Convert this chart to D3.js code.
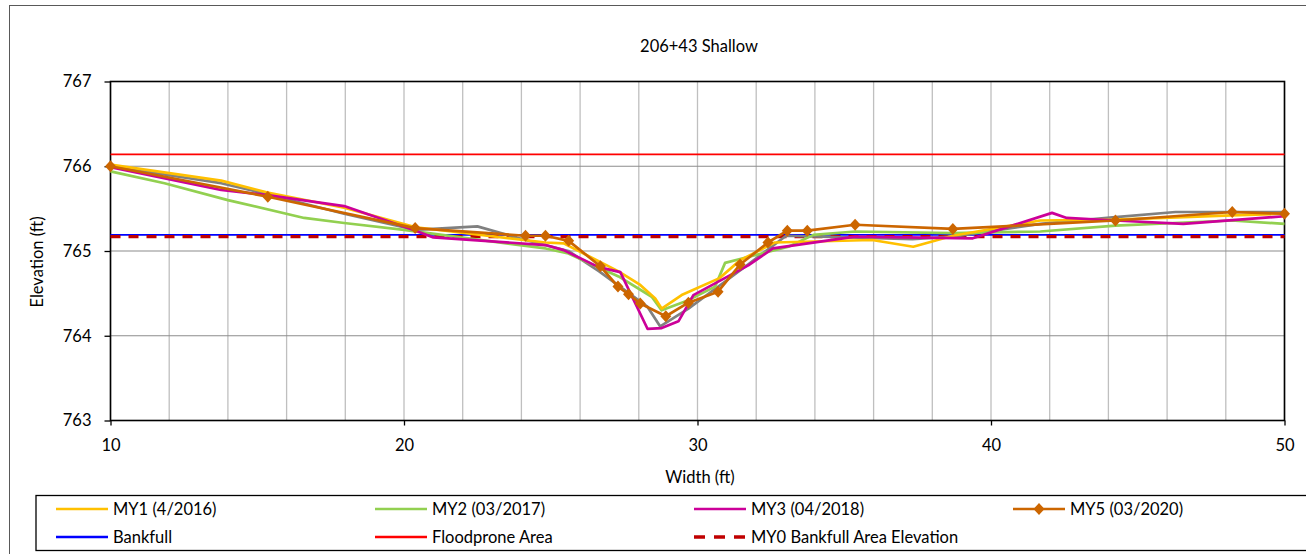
<!DOCTYPE html>
<html>
<head>
<meta charset="utf-8">
<script src="https://cdn.jsdelivr.net/npm/d3@7"></script>
<style>
  body { margin: 0; background: #fff; }
  svg { font-family: Lato, "Liberation Sans", sans-serif; }
</style>
</head>
<body>
<svg id="chart" width="1306" height="554"></svg>
<script>
// survey points [width, elevation]
const my0 = [[10,766.0],[13.77,765.8],[15.35,765.67],[17.96,765.44],[20.4,765.25],[22.5,765.29],[24.14,765.13],[25.6,765.0],[26.65,764.76],[28.3,764.34],[28.73,764.11],[29.69,764.32],[31.45,764.77],[33.02,765.18],[37.32,765.14],[38.7,765.17],[41.68,765.32],[44.24,765.4],[46.29,765.46],[50,765.46]];
const my1 = [[10,766.02],[13.77,765.83],[15.35,765.69],[17.96,765.51],[20.4,765.28],[24.82,765.1],[25.44,765.09],[27.31,764.76],[28.05,764.6],[28.56,764.44],[28.78,764.32],[29.46,764.48],[30.75,764.68],[31.45,764.89],[32.63,765.1],[35.95,765.13],[37.35,765.05],[38.7,765.18],[41.68,765.36],[44.24,765.37],[48.2,765.42],[50,765.44]];
const my2 = [[10,765.94],[11.84,765.8],[14.0,765.6],[16.6,765.39],[17.96,765.33],[20,765.25],[24.82,765.03],[25.6,764.97],[27.31,764.7],[28.44,764.46],[28.78,764.3],[29.69,764.42],[30.6,764.58],[30.94,764.86],[31.62,764.92],[33.1,765.05],[33.95,765.19],[35.37,765.23],[38.68,765.21],[41.68,765.23],[44.24,765.3],[48.2,765.36],[50,765.32]];
const my3 = [[10,765.99],[13.77,765.72],[15.35,765.66],[17.96,765.53],[20.4,765.24],[21.0,765.16],[24.82,765.07],[25.44,765.01],[26.63,764.81],[27.37,764.75],[28.3,764.08],[28.78,764.09],[29.35,764.17],[29.86,764.48],[31.73,764.83],[32.57,765.03],[35.37,765.17],[39.38,765.15],[42.08,765.45],[42.58,765.39],[44.24,765.36],[46.55,765.32],[50,765.41]];
const my5 = [[10,766.0],[15.36,765.64],[20.38,765.27],[24.14,765.18],[24.82,765.18],[25.61,765.12],[26.69,764.82],[27.29,764.58],[27.65,764.49],[28.05,764.38],[28.92,764.23],[29.69,764.39],[30.7,764.52],[31.45,764.84],[32.4,765.1],[33.06,765.24],[33.74,765.24],[35.37,765.31],[38.7,765.26],[44.24,765.36],[48.22,765.46],[50,765.44]];

const bankfull = 765.19;
const floodprone = 766.14;
const my0Bankfull = 765.17;

const xTicks = [10, 20, 30, 40, 50];
const xGrid = d3.range(10, 51, 2);
const yTicks = [763, 764, 765, 766, 767];

const svg = d3.select("#chart");
const plotLeft = 110.5, plotRight = 1284.5, plotTop = 81.5, plotBottom = 420.5;

const x = d3.scaleLinear().domain([10, 50]).range([plotLeft, plotRight]);
const y = d3.scaleLinear().domain([763, 767]).range([plotBottom, plotTop]);

// outer chart border (chart runs past the right/bottom edge of the picture)
svg.append("rect")
    .attr("x", 9.5).attr("y", 5.5)
    .attr("width", 1400).attr("height", 560)
    .style("fill", "#fff").style("stroke", "#595959").style("stroke-width", 1);

svg.append("text")
    .attr("x", 699).attr("y", 52)
    .attr("text-anchor", "middle")
    .style("font-size", "16.5px")
    .text("206+43 Shallow");

// gridlines
svg.append("g").selectAll("line")
    .data(xGrid)
    .enter().append("line")
    .attr("x1", d => x(d)).attr("x2", d => x(d))
    .attr("y1", plotTop).attr("y2", plotBottom)
    .style("stroke", "#bfbfbf").style("stroke-width", 1.3);

svg.append("g").selectAll("line")
    .data(yTicks)
    .enter().append("line")
    .attr("x1", plotLeft).attr("x2", plotRight)
    .attr("y1", d => y(d)).attr("y2", d => y(d))
    .style("stroke", "#8c8c8c").style("stroke-width", 1.2);

// axes
let yAxis = svg.append("g")
    .attr("transform", `translate(${plotLeft},0)`)
    .call(d3.axisLeft(y).tickValues(yTicks).tickSize(6).tickPadding(13).tickFormat(d3.format("d")));
let xAxis = svg.append("g")
    .attr("transform", `translate(0,${plotBottom})`)
    .call(d3.axisBottom(x).tickValues(xTicks).tickSize(5).tickPadding(14).tickFormat(d3.format("d")));
[yAxis, xAxis].forEach(a => {
    a.select(".domain").remove();
    a.selectAll("text").style("font-size", "16.5px").style("font-family", "Lato, sans-serif").style("fill", "#000");
    a.selectAll(".tick line").style("stroke", "#000").style("stroke-width", 1.3);
});

// plot frame
svg.append("rect")
    .attr("x", plotLeft).attr("y", plotTop)
    .attr("width", plotRight - plotLeft).attr("height", plotBottom - plotTop)
    .style("fill", "none").style("stroke", "#000").style("stroke-width", 1.6);

svg.append("text")
    .attr("transform", `translate(43,262) rotate(-90)`)
    .attr("text-anchor", "middle")
    .style("font-size", "16.5px")
    .text("Elevation (ft)");

svg.append("text")
    .attr("x", 700).attr("y", 483)
    .attr("text-anchor", "middle")
    .style("font-size", "16.5px")
    .text("Width (ft)");

// reference lines
function hline(val, color, width, dash) {
    svg.append("line")
        .attr("x1", plotLeft).attr("x2", plotRight)
        .attr("y1", y(val)).attr("y2", y(val))
        .style("stroke", color).style("stroke-width", width)
        .style("stroke-dasharray", dash || null);
}
hline(floodprone, "#ff0000", 1.6);
hline(bankfull, "#0000ff", 1.6);
hline(my0Bankfull, "#c00000", 3.2, "10,8");

// cross-section lines
const line = d3.line().x(d => x(d[0])).y(d => y(d[1]));
const series = [
    {data: my0, color: "#808080"},
    {data: my2, color: "#92d050"},
    {data: my1, color: "#ffc000"},
    {data: my3, color: "#cc0099"},
    {data: my5, color: "#cc6600"}
];
svg.append("g").selectAll("path")
    .data(series)
    .enter().append("path")
    .attr("d", d => line(d.data))
    .style("fill", "none")
    .style("stroke", d => d.color)
    .style("stroke-width", 2.7)
    .style("stroke-linejoin", "round");

const diamond = (cx, cy) => `M${cx},${cy - 6}L${cx + 5.5},${cy}L${cx},${cy + 6}L${cx - 5.5},${cy}Z`;
svg.append("g").selectAll("path")
    .data(my5)
    .enter().append("path")
    .attr("d", d => diamond(x(d[0]), y(d[1])))
    .style("fill", "#cc6600");

// legend
svg.append("rect")
    .attr("x", 36).attr("y", 495.5)
    .attr("width", 1300).attr("height", 55)
    .style("fill", "#fff").style("stroke", "#000").style("stroke-width", 1.3);

const legendItems = [
    {label: "MY1 (4/2016)", color: "#ffc000", col: 0, row: 0},
    {label: "MY2 (03/2017)", color: "#92d050", col: 1, row: 0},
    {label: "MY3 (04/2018)", color: "#cc0099", col: 2, row: 0},
    {label: "MY5 (03/2020)", color: "#cc6600", col: 3, row: 0, marker: true},
    {label: "Bankfull", color: "#0000ff", col: 0, row: 1},
    {label: "Floodprone Area", color: "#ff0000", col: 1, row: 1},
    {label: "MY0 Bankfull Area Elevation", color: "#c00000", col: 2, row: 1, dash: true}
];
const colX = [56, 375, 694, 1013];
const rowY = [509, 537];
let leg = svg.append("g").selectAll("g")
    .data(legendItems)
    .enter().append("g")
    .attr("transform", d => `translate(${colX[d.col]},${rowY[d.row]})`);
leg.append("line")
    .attr("x1", 0).attr("x2", 52)
    .style("stroke", d => d.color)
    .style("stroke-width", d => d.dash ? 3.5 : 2.6)
    .style("stroke-dasharray", d => d.dash ? "11,9" : null);
leg.filter(d => d.marker).append("path")
    .attr("d", diamond(26, 0))
    .style("fill", "#cc6600");
leg.append("text")
    .attr("x", 57).attr("y", 6)
    .style("font-size", "16.5px")
    .text(d => d.label);
</script>
</body>
</html>
